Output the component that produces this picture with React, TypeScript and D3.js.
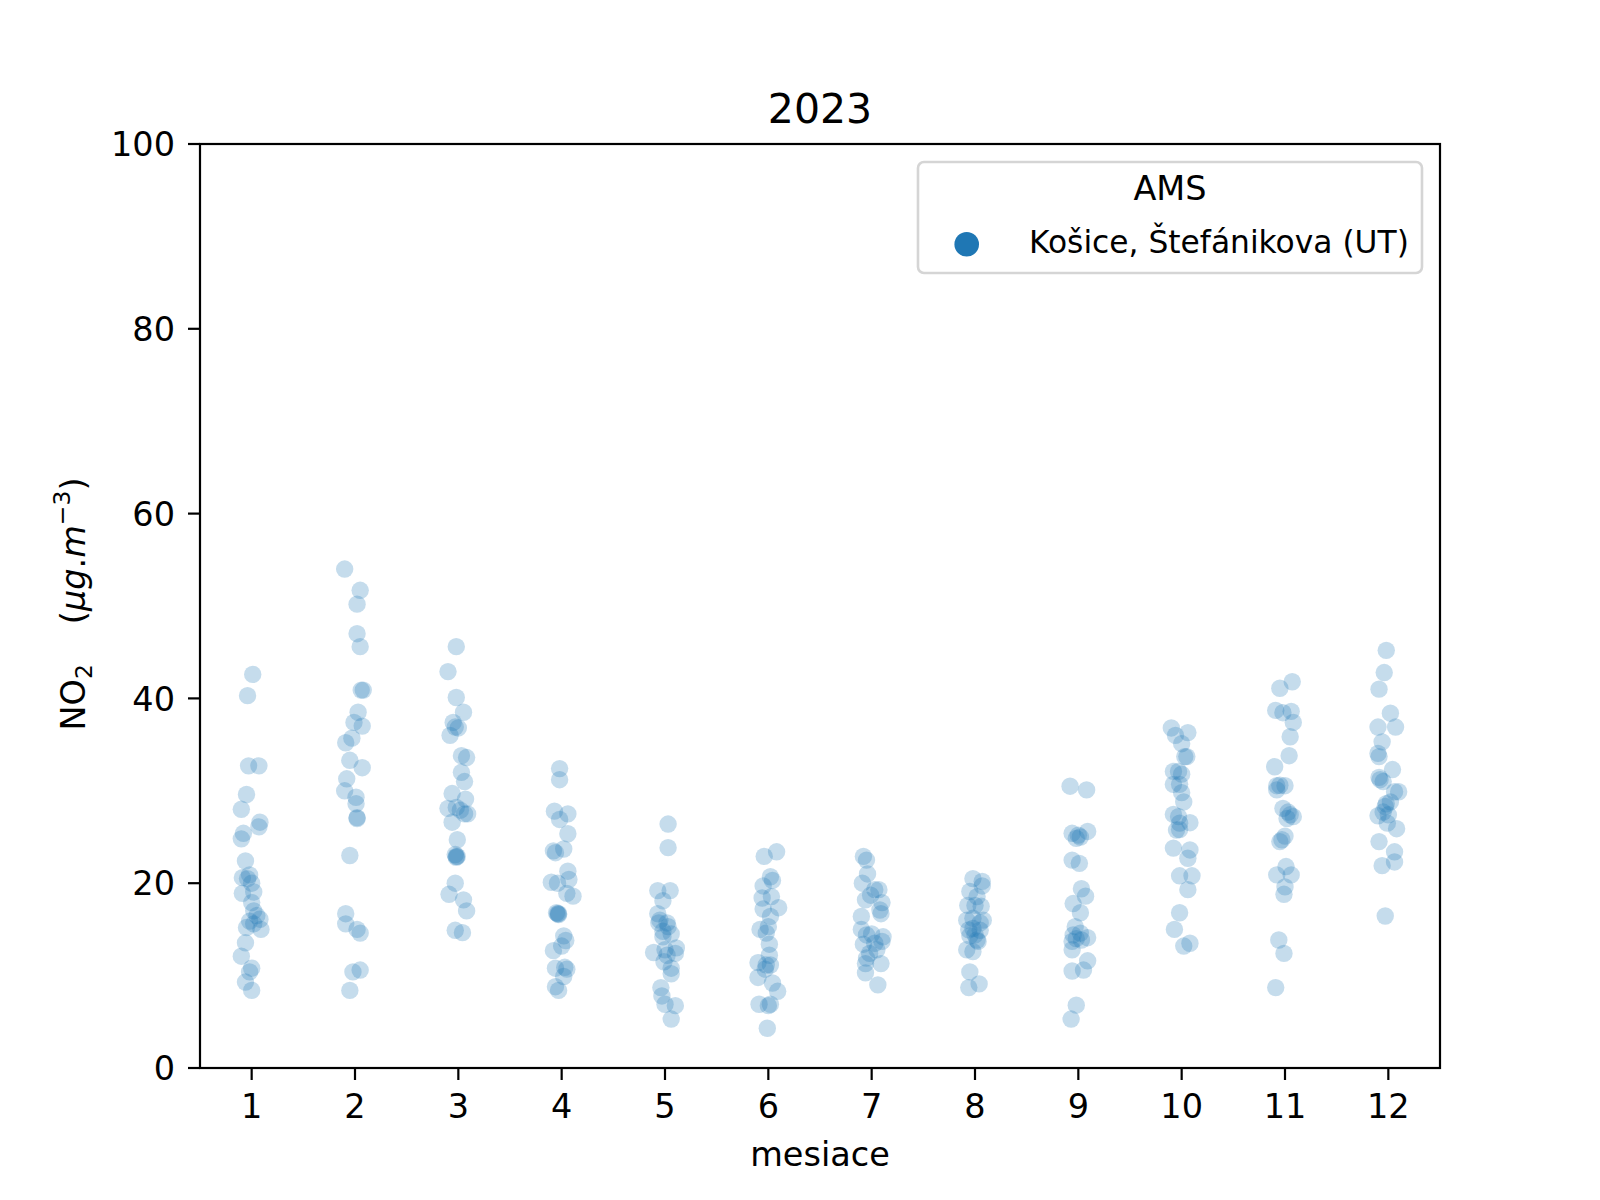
import React from "react";
import * as d3 from "d3";

// ---- data: [value, horizontal jitter in category units] ----
const months = ["1", "2", "3", "4", "5", "6", "7", "8", "9", "10", "11", "12"];
const yTicks = [0, 20, 40, 60, 80, 100];

const m01 = [[42.6,0.01],[40.3,-0.04],[32.7,-0.03],[32.7,0.07],[29.6,-0.05],[28.0,-0.10],[26.6,0.08],[26.1,0.07],[25.4,-0.08],[24.8,-0.10],[22.4,-0.06],[20.6,-0.09],[20.9,-0.02],[20.0,0.0],[18.9,-0.09],[19.05,0.02],[17.9,0.0],[17.0,0.02],[15.9,-0.02],[16.1,0.08],[15.6,0.02],[15.2,-0.05],[15.0,0.09],[13.55,-0.06],[12.1,-0.10],[10.8,0.0],[10.4,-0.02],[9.3,-0.06],[8.4,0.0],[16.5,0.05],[20.5,-0.04]];
const m02 = [[54.0,-0.10],[51.7,0.05],[50.2,0.02],[47.0,0.02],[45.6,0.05],[40.9,0.06],[40.9,0.08],[38.5,0.03],[37.4,-0.01],[37.0,0.07],[35.7,-0.03],[35.2,-0.09],[33.3,-0.05],[32.5,0.07],[31.3,-0.08],[30.0,-0.10],[29.3,0.01],[28.6,0.01],[27.1,0.02],[27.0,0.02],[23.0,-0.05],[16.7,-0.09],[15.6,-0.09],[15.0,0.02],[14.6,0.05],[10.4,-0.02],[10.6,0.05],[8.4,-0.05]];
const m03 = [[45.6,-0.02],[42.9,-0.10],[40.1,-0.02],[38.5,0.05],[37.4,-0.05],[36.9,-0.03],[36.8,0.0],[36.0,-0.08],[33.8,0.03],[33.6,0.08],[32.0,0.03],[31.0,0.06],[29.7,-0.06],[29.1,0.07],[28.1,-0.10],[28.2,-0.02],[27.5,0.06],[27.5,0.09],[26.6,-0.06],[24.7,-0.01],[23.1,-0.03],[22.8,-0.02],[22.9,-0.01],[22.9,-0.02],[20.0,-0.03],[18.8,-0.09],[18.2,0.05],[17.0,0.08],[14.9,-0.03],[14.65,0.04],[27.9,0.02]];
const m04 = [[32.4,-0.02],[31.2,-0.02],[27.8,-0.07],[27.5,0.06],[26.9,-0.02],[25.35,0.06],[23.5,-0.08],[23.7,0.02],[23.3,-0.06],[21.3,0.06],[20.4,0.07],[20.1,-0.10],[20.0,-0.04],[18.9,0.05],[18.6,0.11],[16.8,-0.05],[16.7,-0.03],[16.7,-0.04],[16.6,-0.03],[14.3,0.02],[13.8,0.04],[12.7,-0.08],[13.2,0.0],[10.8,-0.06],[10.9,0.03],[10.7,0.05],[9.9,0.02],[8.8,-0.06],[8.4,-0.03]];
const m05 = [[26.4,0.03],[23.85,0.03],[19.2,-0.07],[19.2,0.05],[18.1,-0.02],[16.7,-0.07],[15.7,-0.06],[15.7,0.02],[14.8,-0.02],[14.5,0.06],[14.2,-0.02],[12.5,-0.11],[13.0,0.11],[12.8,0.0],[12.4,0.10],[12.2,0.02],[11.5,-0.01],[10.8,0.06],[10.2,0.06],[8.7,-0.04],[7.8,-0.03],[6.9,0.0],[6.75,0.10],[5.3,0.06],[16.0,-0.05],[15.3,0.03]];
const m06 = [[22.9,-0.04],[23.4,0.08],[20.7,0.02],[19.7,-0.05],[20.3,0.04],[18.55,0.03],[18.4,-0.06],[17.35,0.10],[17.2,-0.05],[16.4,0.02],[15.3,0.0],[15.0,-0.08],[14.6,-0.02],[13.4,0.01],[12.2,0.01],[11.4,-0.10],[11.15,0.02],[9.8,-0.10],[9.2,0.04],[8.3,0.09],[6.9,-0.09],[6.75,0.0],[6.9,0.02],[4.3,-0.01],[11.15,-0.02],[10.7,-0.03]];
const m07 = [[22.9,-0.08],[22.5,-0.05],[21.0,-0.04],[20.0,-0.09],[19.3,0.03],[19.3,0.07],[18.7,-0.01],[18.2,-0.06],[17.9,0.10],[16.7,0.09],[17.1,0.08],[16.4,-0.10],[15.0,-0.10],[14.4,-0.05],[14.5,0.0],[14.2,0.11],[13.4,-0.08],[13.5,0.03],[13.7,0.10],[12.4,-0.02],[12.8,0.05],[11.3,-0.06],[11.3,0.09],[10.3,-0.06],[9.0,0.06],[11.9,-0.05]];
const m08 = [[20.5,-0.02],[20.2,0.07],[19.1,-0.05],[19.7,0.07],[18.55,0.02],[17.6,-0.07],[17.6,0.0],[17.5,0.06],[16.0,-0.08],[16.0,0.08],[15.7,0.05],[16.2,-0.02],[14.95,-0.06],[15.1,-0.02],[14.9,0.05],[14.4,0.0],[14.3,-0.05],[12.8,-0.08],[12.6,-0.02],[13.7,0.03],[10.4,-0.05],[8.7,-0.06],[9.1,0.04],[13.85,0.02]];
const m09 = [[30.5,-0.08],[30.1,0.08],[25.4,-0.06],[25.2,0.0],[25.6,0.09],[24.85,-0.02],[25.0,0.02],[22.5,-0.06],[22.15,0.01],[19.4,0.03],[18.6,0.07],[17.8,-0.05],[16.8,0.02],[14.4,-0.05],[14.6,0.02],[14.1,0.09],[13.7,-0.06],[14.0,-0.02],[12.8,-0.06],[11.6,0.09],[10.5,-0.06],[10.6,0.05],[6.8,-0.02],[5.3,-0.07],[15.3,-0.03],[13.85,0.03]];
const m10 = [[36.8,-0.10],[36.3,0.06],[36.0,-0.06],[35.1,0.0],[33.7,0.05],[33.7,0.03],[32.1,-0.08],[32.1,-0.03],[31.8,0.0],[30.7,-0.08],[30.7,-0.02],[29.8,0.0],[28.8,0.02],[27.45,-0.08],[27.2,-0.03],[26.55,0.08],[26.5,-0.02],[25.75,-0.05],[25.8,-0.02],[23.8,-0.08],[23.6,0.08],[22.7,0.06],[20.8,-0.02],[20.8,0.10],[19.3,0.06],[16.8,-0.02],[15.0,-0.07],[13.2,0.02],[13.5,0.08]];
const m11 = [[41.8,0.07],[41.1,-0.05],[38.7,-0.09],[38.45,-0.02],[38.6,0.06],[37.4,0.08],[35.85,0.05],[33.8,0.04],[32.6,-0.10],[30.55,-0.08],[30.6,-0.05],[30.55,0.0],[30.1,-0.08],[28.1,-0.02],[27.4,0.05],[27.2,0.08],[27.7,0.03],[25.1,0.0],[24.5,-0.05],[20.9,-0.08],[20.9,0.06],[21.8,0.01],[19.6,0.0],[18.8,-0.01],[13.85,-0.06],[12.4,-0.01],[8.7,-0.09],[24.7,-0.03],[27.0,0.02]];
const m12 = [[45.2,-0.02],[42.8,-0.04],[41.0,-0.09],[38.4,0.02],[36.9,0.07],[36.9,-0.10],[35.3,-0.06],[34.05,-0.10],[33.7,-0.09],[32.3,0.04],[31.45,-0.09],[31.0,-0.05],[29.9,0.10],[29.9,0.06],[28.6,-0.02],[27.3,-0.10],[27.7,-0.05],[27.4,0.0],[26.5,-0.01],[25.9,0.08],[24.5,-0.09],[23.4,0.06],[22.3,0.06],[21.9,-0.06],[16.45,-0.03],[28.3,-0.03],[28.8,0.02],[31.2,-0.08]];

const monthData = [m01, m02, m03, m04, m05, m06, m07, m08, m09, m10, m11, m12];

const title = "2023";
const xLabel = "mesiace";
const legendTitle = "AMS";
const legendLabel = "Košice, Štefánikova (UT)";

const W = 1600, H = 1200;
const L = 200, R = 1440, T = 144, B = 1068;
const COLOR = "#1f77b4";
const FONT = "'DejaVu Sans', 'Liberation Sans', sans-serif";

export default function App() {
  const x = d3.scaleLinear().domain([-0.5, 11.5]).range([L, R]);
  const y = d3.scaleLinear().domain([0, 100]).range([B, T]);

  const points: { cx: number; cy: number; key: string }[] = [];
  monthData.forEach((arr, i) => {
    arr.forEach(([v, j], k) => {
      points.push({ cx: x(i + j), cy: y(v), key: `${i}-${k}` });
    });
  });

  const tickFs = 33.5;
  return (
    <svg
      width={W}
      height={H}
      viewBox={`0 0 ${W} ${H}`}
      style={{ position: "absolute", left: 0, top: 0, background: "#fff" }}
      fontFamily={FONT}
    >
      <rect x={0} y={0} width={W} height={H} fill="#fff" />
      {/* points */}
      <g>
        {points.map((p) => (
          <circle key={p.key} cx={p.cx} cy={p.cy} r={8.7} fill={COLOR} fillOpacity={0.26} />
        ))}
      </g>
      {/* frame */}
      <rect x={L} y={T} width={R - L} height={B - T} fill="none" stroke="#000" strokeWidth={2.2} />
      {/* y ticks */}
      {yTicks.map((t) => (
        <g key={`y${t}`}>
          <line x1={L - 12} x2={L} y1={y(t)} y2={y(t)} stroke="#000" strokeWidth={2.2} />
          <text x={L - 25} y={y(t) + 12.2} textAnchor="end" fontSize={tickFs} fill="#000">
            {t}
          </text>
        </g>
      ))}
      {/* x ticks */}
      {months.map((m, i) => (
        <g key={`x${m}`}>
          <line x1={x(i)} x2={x(i)} y1={B} y2={B + 12} stroke="#000" strokeWidth={2.2} />
          <text x={x(i)} y={B + 50} textAnchor="middle" fontSize={tickFs} fill="#000">
            {m}
          </text>
        </g>
      ))}
      {/* x label */}
      <text x={(L + R) / 2} y={1166} textAnchor="middle" fontSize={33.5} fill="#000">
        {xLabel}
      </text>
      {/* y label */}
      <text
        transform={`translate(85, ${(T + B) / 2 - 2}) rotate(-90)`}
        textAnchor="middle"
        fontSize={33.5}
        fill="#000"
      >
        <tspan>NO</tspan>
        <tspan fontSize={23.5} dy={7}>2</tspan>
        <tspan dx={40} dy={-7}>(</tspan>
        <tspan fontStyle="italic">μg</tspan>
        <tspan>.</tspan>
        <tspan fontStyle="italic">m</tspan>
        <tspan fontSize={23.5} dy={-15}>−3</tspan>
        <tspan dy={15}>)</tspan>
      </text>
      {/* title */}
      <text x={(L + R) / 2} y={123} textAnchor="middle" fontSize={41} fill="#000">
        {title}
      </text>
      {/* legend */}
      <rect
        x={918}
        y={162}
        width={504}
        height={111}
        rx={6}
        fill="#fff"
        fillOpacity={0.8}
        stroke="#d5d5d5"
        strokeWidth={2.6}
      />
      <text x={1170} y={200} textAnchor="middle" fontSize={33.5} fill="#000">
        {legendTitle}
      </text>
      <circle cx={966.7} cy={244.3} r={12.3} fill={COLOR} />
      <text x={1029} y={253} fontSize={31.3} fill="#000">
        {legendLabel}
      </text>
    </svg>
  );
}
